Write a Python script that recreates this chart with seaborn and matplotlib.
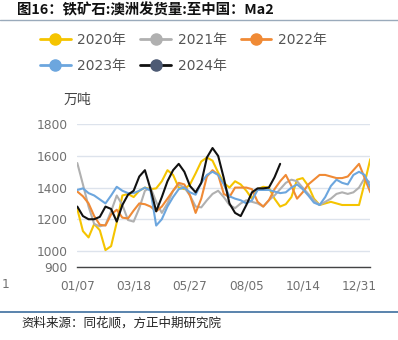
import numpy as np
import pandas as pd
import matplotlib
matplotlib.use("Agg")
import matplotlib.pyplot as plt
from matplotlib.lines import Line2D
import seaborn as sns

years = ["2020年", "2021年", "2022年", "2023年", "2024年"]
colors = ["#F5C400", "#B0B0B0", "#F08A35", "#6CA6DE", "#111111"]
marker_colors = ["#F5C400", "#B0B0B0", "#F08A35", "#6CA6DE", "#4D5A74"]

x_tick_labels = ["01/07", "03/18", "05/27", "08/05", "10/14", "12/31"]

v2020 = [1265, 1125, 1085, 1170, 1130, 1005, 1030, 1180, 1350, 1360,
         1340, 1380, 1400, 1390, 1395, 1440, 1510, 1480, 1400, 1390,
         1420, 1490, 1565, 1590, 1570, 1495, 1430, 1400, 1440, 1420,
         1380, 1330, 1390, 1405, 1400, 1330, 1280, 1295, 1340, 1450,
         1460, 1410, 1330, 1290, 1300, 1310, 1300, 1290, 1290, 1290,
         1290, 1430, 1580]
v2021 = [1555, 1420, 1280, 1170, 1155, 1165, 1250, 1350, 1290, 1195,
         1185, 1270, 1380, 1400, 1310, 1240, 1300, 1380, 1420, 1400,
         1350, 1280, 1275, 1320, 1360, 1380, 1340, 1290, 1270, 1300,
         1320, 1310, 1300, 1280, 1320, 1350, 1390, 1430, 1450, 1440,
         1400, 1360, 1320, 1290, 1310, 1330, 1360, 1370, 1360, 1370,
         1400, 1460, 1430]
v2022 = [1375, 1345, 1300, 1220, 1165, 1160, 1230, 1260, 1210, 1205,
         1255, 1300, 1295, 1280, 1250, 1280, 1330, 1380, 1430, 1420,
         1350, 1240, 1330, 1470, 1510, 1480, 1360, 1340, 1400, 1400,
         1400, 1390, 1310, 1280, 1320, 1390, 1440, 1480, 1410, 1330,
         1370, 1420, 1450, 1480, 1480, 1470, 1460, 1460, 1470, 1510,
         1550, 1460, 1370]
v2023 = [1385, 1395, 1365, 1350, 1325, 1300, 1350, 1405, 1380, 1365,
         1365, 1380, 1400, 1380, 1160, 1200, 1280, 1340, 1390, 1400,
         1370, 1355, 1430, 1480, 1500, 1480, 1420, 1345, 1330, 1320,
         1300, 1320, 1385, 1385, 1385, 1375, 1365, 1370, 1400, 1420,
         1390, 1350, 1305, 1290, 1340, 1410, 1450, 1430, 1420, 1480,
         1500, 1480, 1400]
v2024 = [1280, 1220, 1200, 1200, 1215, 1280, 1265, 1185, 1290, 1355,
         1380, 1470, 1510, 1390, 1250, 1340, 1440, 1510, 1550, 1500,
         1410, 1370, 1430, 1590, 1650, 1600, 1460, 1300, 1240, 1220,
         1290, 1370, 1395, 1395, 1400, 1465, 1550]

series = [v2020, v2021, v2022, v2023, v2024]
frames = []
for y, vals in zip(years, series):
    frames.append(pd.DataFrame({"week": np.arange(len(vals)), "value": vals, "year": y}))
df = pd.concat(frames, ignore_index=True)

sns.set_theme(style="white")
plt.rcParams["font.family"] = ["DejaVu Sans", "Noto Sans CJK SC"]

W, H = 398, 340
fig = plt.figure(figsize=(W / 100, H / 100), dpi=100)
ax = fig.add_axes([77.3 / W, 1 - 266.7 / H, (370.3 - 77.3) / W, (266.7 - 124.3) / H])

sns.lineplot(data=df, x="week", y="value", hue="year", hue_order=years,
             palette=dict(zip(years, colors)), linewidth=1.5, legend=False,
             ax=ax, estimator=None, sort=True)

ax.set_xlim(0, 52)
ax.set_ylim(900, 1800)
ax.set_yticks([900, 1000, 1200, 1400, 1600, 1800])
ax.set_xticks([0, 10, 20, 30, 40, 50, 52])
ax.set_xticklabels(x_tick_labels + [""])
ax.set_xlabel("")
ax.set_ylabel("")
for s in ["top", "right", "left"]:
    ax.spines[s].set_visible(False)
ax.spines["bottom"].set_color("#444444")
ax.spines["bottom"].set_linewidth(1.0)
ax.yaxis.grid(True, color="#DDE3EC", linewidth=1.0)
ax.xaxis.grid(False)
ax.set_axisbelow(True)
ax.tick_params(axis="x", direction="out", length=5, width=1, color="#444444",
               labelsize=8.7, labelcolor="#707070", pad=4)
ax.tick_params(axis="y", length=0, labelsize=8.8, labelcolor="#707070", pad=7)

# legend
handles = [Line2D([], [], color=c, lw=2, marker="o", markersize=8,
                  markerfacecolor=mc, markeredgecolor=mc)
           for c, mc in zip(colors, marker_colors)]
order = [0, 3, 1, 4, 2]
leg = fig.legend([handles[i] for i in order], [years[i] for i in order],
                 ncol=3, loc="upper left", bbox_to_anchor=(40 / W, 1 - 33 / H),
                 frameon=False, fontsize=10, handlelength=2.2, handletextpad=0.5,
                 columnspacing=1.0, labelspacing=0.85, borderpad=0, borderaxespad=0)
for t in leg.get_texts():
    t.set_color("#555555")

# title and decorations
fig.text(17 / W, 1 - 10 / H, "图16：铁矿石:澳洲发货量:至中国：Ma2", ha="left", va="center",
         fontsize=10.4, fontweight="bold", color="#111111",
         family=["Noto Sans CJK SC", "DejaVu Sans"])
fig.add_artist(Line2D([0, 1], [1 - 20 / H, 1 - 20 / H], transform=fig.transFigure,
                      color="#9AAABB", lw=1))
fig.text(77 / W, 1 - 100 / H, "万吨", ha="center", va="center", fontsize=10,
         color="#444444", family=["Noto Sans CJK SC", "DejaVu Sans"])
fig.text(2 / W, 1 - 284 / H, "1", ha="left", va="center", fontsize=8.7, color="#707070")
fig.add_artist(Line2D([0, 1], [1 - 311.5 / H, 1 - 311.5 / H], transform=fig.transFigure,
                      color="#3D6E9E", lw=1.2))
fig.text(21 / W, 1 - 323 / H, "资料来源：同花顺，方正中期研究院", ha="left", va="center",
         fontsize=9, color="#222222", style="italic",
         family=["Noto Sans CJK SC", "DejaVu Sans"])

fig.savefig("out.png", dpi=100)
